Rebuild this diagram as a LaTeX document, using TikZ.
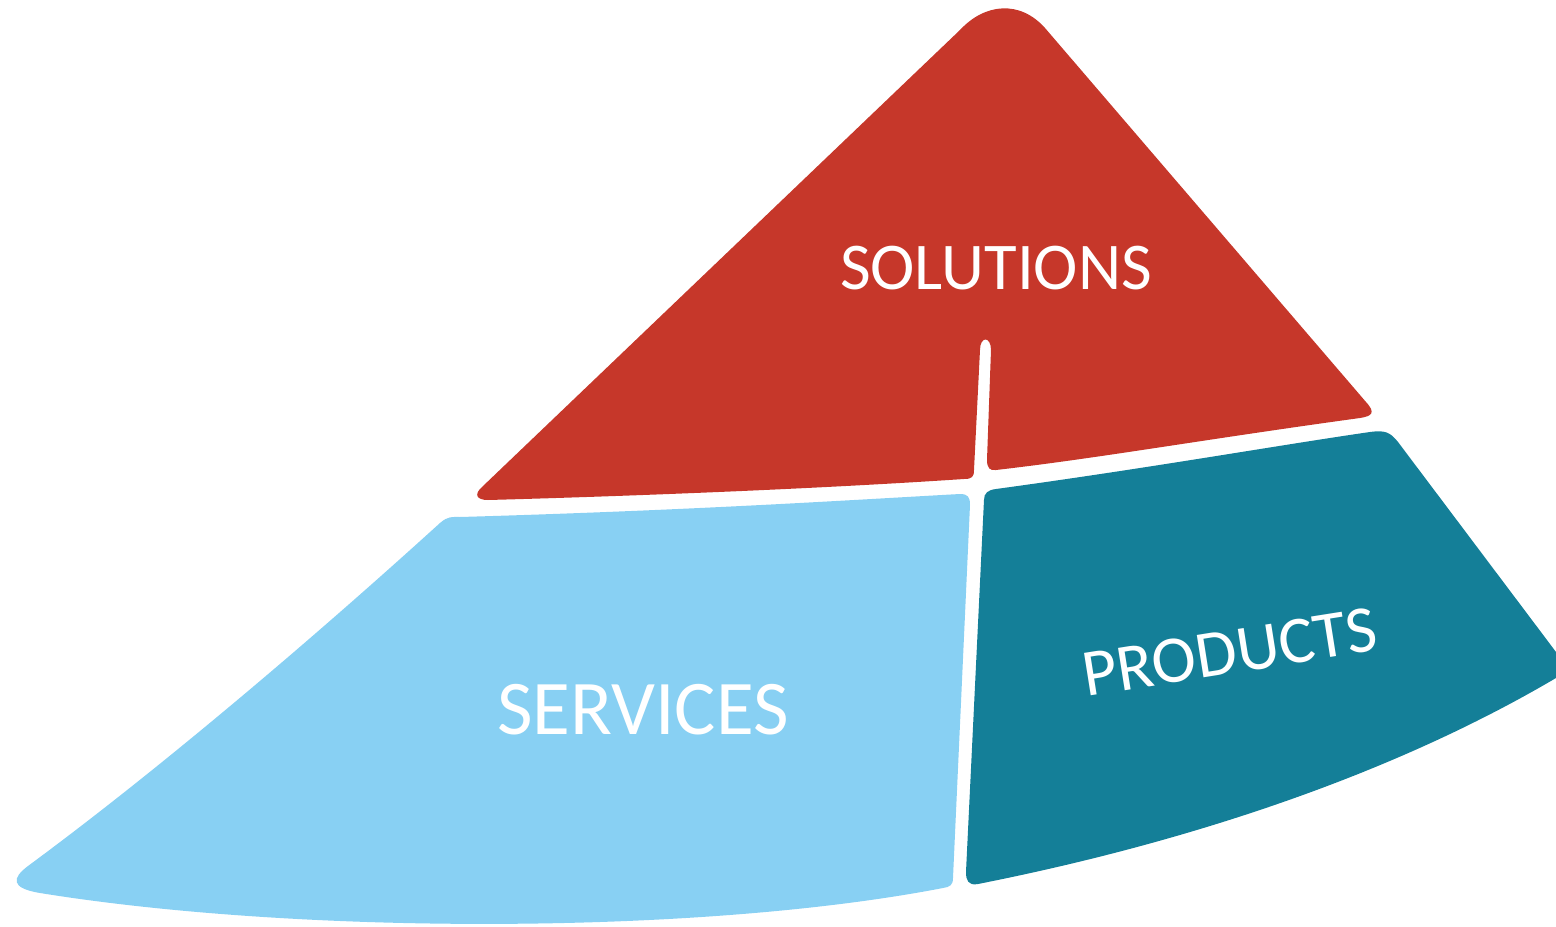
\documentclass[tikz,border=0pt]{standalone}
\usepackage{fontspec}
\setmainfont{Carlito}
\usepackage{tikz}
\definecolor{solred}{HTML}{C6372A}
\definecolor{servblue}{HTML}{88D0F3}
\definecolor{prodteal}{HTML}{147F98}
\tikzstyle{piece} = [draw=none]
\tikzstyle{wtext} = [text=white, inner sep=0pt]

\begin{document}
\begin{tikzpicture}[x=0.01cm, y=-0.01cm]
			\useasboundingbox (0,0) rectangle (1556,927);

			% top piece
			\path [piece, fill=solred] (960,30) .. controls (985,3) and (1020,0) .. (1045,28)
				-- (1366,402) .. controls (1376,413) and (1372,416) .. (1360,418)
				.. controls (1200,440) and (1100,458) .. (996,470)
				.. controls (990,471) and (987,468) .. (987,460)
				-- (991,350) .. controls (991,336) and (980,336) .. (980,350)
				-- (974,470) .. controls (974,477) and (972,479) .. (964,479)
				.. controls (800,490) and (600,497) .. (488,500)
				.. controls (476,500) and (474,494) .. (482,487)
				-- cycle;

			% left piece
			\path [piece, fill=servblue] (460,517) .. controls (700,510) and (850,500) .. (960,494)
				.. controls (968,494) and (970,497) .. (970,505)
				-- (953,878) .. controls (953,885) and (950,887) .. (943,888)
				.. controls (700,935) and (300,935) .. (40,893)
				.. controls (10,888) and (12,878) .. (28,866)
				.. controls (165,765) and (320,632) .. (440,523)
				.. controls (448,516) and (452,517) .. (460,517);

			% right piece
			\path [piece, fill=prodteal] (996,489) .. controls (1150,468) and (1280,445) .. (1370,432)
				.. controls (1385,430) and (1390,432) .. (1398,442)
				-- (1556,652) -- (1556,678)
				.. controls (1400,770) and (1200,840) .. (978,884)
				.. controls (968,886) and (966,880) .. (966,872)
				-- (984,500) .. controls (984,493) and (988,490) .. (996,489);

			\node [wtext, font=\fontsize{19}{19}\selectfont] (sol) at (996,268) {SOLUTIONS};
			\node [wtext, font=\fontsize{22}{22}\selectfont] (serv) at (643,710) {SERVICES};
			\node [wtext, font=\fontsize{19}{19}\selectfont, rotate=9] (prod) at (1230,652) {PRODUCTS};
		\end{tikzpicture}
\end{document}
